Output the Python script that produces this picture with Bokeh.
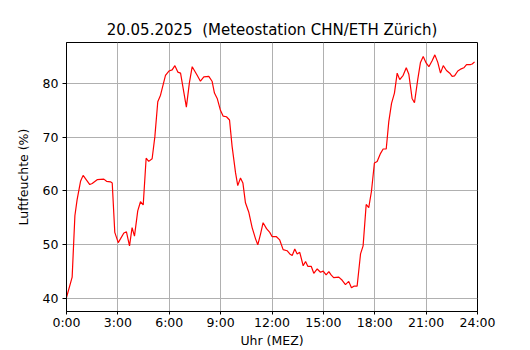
from bokeh.plotting import figure
from bokeh.models import Range1d, FixedTicker
from bokeh.embed import file_html
from bokeh.resources import INLINE

# Data (hours since midnight, relative humidity %)
hours = [0.0, 0.33, 0.49, 0.62, 0.82, 0.97, 1.36, 1.5, 1.79, 2.18, 2.34, 2.57, 2.67,
         2.82, 3.02, 3.15, 3.35, 3.5, 3.68, 3.83, 3.97, 4.16, 4.32, 4.48, 4.65, 4.8,
         5.0, 5.16, 5.33, 5.49, 5.78, 5.98, 6.17, 6.33, 6.5, 6.66, 7.0, 7.18, 7.34,
         7.63, 7.82, 8.02, 8.31, 8.5, 8.64, 8.8, 8.99, 9.15, 9.34, 9.52, 9.67, 9.87,
         10.0, 10.16, 10.3, 10.45, 10.65, 10.84, 11.04, 11.17, 11.33, 11.48, 11.68,
         11.87, 12.01, 12.26, 12.45, 12.65, 12.88, 13.04, 13.18, 13.33, 13.47, 13.62,
         13.82, 13.96, 14.09, 14.29, 14.44, 14.64, 14.83, 14.99, 15.16, 15.32, 15.45,
         15.6, 15.9, 16.1, 16.29, 16.48, 16.64, 16.78, 16.97, 17.17, 17.32, 17.5,
         17.65, 17.81, 17.98, 18.14, 18.34, 18.49, 18.67, 18.82, 18.98, 19.15, 19.31,
         19.46, 19.66, 19.84, 19.99, 20.18, 20.32, 20.51, 20.67, 20.83, 21.0, 21.16,
         21.35, 21.51, 21.68, 21.84, 22.0, 22.19, 22.38, 22.52, 22.66, 22.85, 23.05,
         23.2, 23.36, 23.6, 23.69, 23.83]
humidity = [40.2, 44.0, 55.4, 58.4, 61.8, 62.9, 61.2, 61.4, 62.1, 62.2, 61.8, 61.7, 61.5,
            52.3, 50.4, 51.1, 52.2, 52.4, 49.8, 53.2, 51.6, 56.3, 58.0, 57.4, 66.1, 65.5,
            66.0, 70.1, 76.6, 77.8, 81.5, 82.3, 82.5, 83.3, 82.1, 81.9, 75.6, 80.2, 83.1,
            81.5, 80.4, 81.2, 81.3, 80.4, 78.2, 77.2, 75.0, 73.9, 73.8, 73.2, 68.3, 63.4,
            61.0, 62.4, 61.5, 57.8, 56.0, 53.2, 51.1, 50.0, 52.0, 54.1, 53.0,
            52.3, 51.5, 51.5, 50.9, 49.1, 48.9, 48.3, 48.0, 49.2, 48.3, 48.6,
            46.1, 46.9, 46.0, 46.0, 44.7, 45.5, 44.9, 45.1, 44.4, 45.0, 44.4,
            43.9, 44.0, 43.4, 42.6, 43.2, 42.0, 42.3, 42.3, 48.3, 49.8, 57.5,
            56.9, 60.0, 65.2, 65.5, 67.0, 67.8, 67.8, 72.9, 76.3, 78.2, 81.9,
            80.7, 81.5, 82.9, 81.7, 77.2, 76.4, 80.7, 83.9, 85.0, 83.8, 83.1,
            84.2, 85.3, 83.9, 81.9, 83.3, 82.4, 81.9, 81.3, 81.4, 82.3, 82.7,
            82.9, 83.5, 83.5, 83.6, 84.0]

x_ticks = [0, 3, 6, 9, 12, 15, 18, 21, 24]
x_tick_labels = ["0:00", "3:00", "6:00", "9:00", "12:00", "15:00", "18:00", "21:00", "24:00"]
y_ticks = [40, 50, 60, 70, 80]

FONT = "DejaVu Sans"

p = figure(width=530, height=350, output_backend="svg", toolbar_location=None,
           x_range=Range1d(0, 24), y_range=Range1d(37.6, 87.6),
           title="20.05.2025 \u00a0(Meteostation CHN/ETH Zürich)")
p.min_border_left = 66
p.min_border_right = 53
p.min_border_top = 42
p.min_border_bottom = 37

p.title.align = "center"
p.title.text_font = FONT
p.title.text_font_size = "15px"
p.title.text_font_style = "normal"
p.title.text_color = "black"
p.title.standoff = 7

p.outline_line_color = "black"
p.outline_line_width = 1
p.outline_line_alpha = 1

p.line(hours, humidity, line_color="#ff0000", line_width=1.2)

for ax in (p.xaxis[0], p.yaxis[0]):
    ax.axis_line_color = "black"
    ax.major_tick_line_color = "black"
    ax.major_tick_out = 4
    ax.major_tick_in = 0
    ax.minor_tick_line_color = None
    ax.major_label_text_font = FONT
    ax.major_label_text_font_size = "12.5px"
    ax.major_label_text_color = "black"
    ax.axis_label_text_font = FONT
    ax.axis_label_text_font_size = "12.5px"
    ax.axis_label_text_font_style = "normal"
    ax.axis_label_text_color = "black"
    ax.major_label_standoff = 4

p.xaxis.major_tick_out = 3
p.xaxis.major_label_standoff = 0
p.xaxis.axis_label_standoff = 0
p.xaxis.ticker = FixedTicker(ticks=x_ticks)
p.xaxis.major_label_overrides = {t: l for t, l in zip(x_ticks, x_tick_labels)}
p.yaxis.ticker = FixedTicker(ticks=y_ticks)
p.xaxis.axis_label = "Uhr (MEZ)"
p.yaxis.axis_label = "Luftfeuchte (%)"
p.yaxis.axis_label_standoff = 9

p.xgrid.ticker = FixedTicker(ticks=x_ticks)
p.ygrid.ticker = FixedTicker(ticks=y_ticks)
p.grid.grid_line_color = "#b0b0b0"
p.grid.grid_line_width = 1
p.grid.grid_line_alpha = 1

open("out.html", "w").write(file_html(p, INLINE))
